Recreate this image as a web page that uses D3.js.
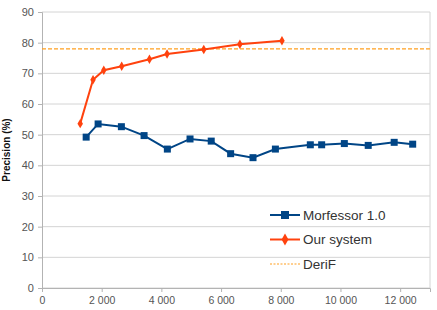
<!DOCTYPE html>
<html>
<head>
<meta charset="utf-8">
<script src="https://cdn.jsdelivr.net/npm/d3@7"></script>
<style>
  body { margin: 0; background: #fff; }
  svg { display: block; font-family: "Liberation Sans", Arial, sans-serif; }
</style>
</head>
<body>
<svg id="chart" width="437" height="310"></svg>
<script>
// values
const morfessorX = [1480, 1880, 2660, 3420, 4200, 4960, 5670, 6320, 7070, 7820, 8990, 9370, 10130, 10930, 11800, 12420];
const morfessorY = [49.2, 53.5, 52.6, 49.7, 45.3, 48.6, 47.9, 43.8, 42.5, 45.3, 46.7, 46.7, 47.1, 46.5, 47.5, 46.9];
const oursX = [1280, 1710, 2070, 2670, 3600, 4190, 5420, 6630, 8040];
const oursY = [53.6, 67.9, 71.0, 72.3, 74.6, 76.3, 77.8, 79.5, 80.6];
const derifY = 78;
const xTicks = [0, 2000, 4000, 6000, 8000, 10000, 12000];
const yTicks = [0, 10, 20, 30, 40, 50, 60, 70, 80, 90];

const svg = d3.select('#chart');
const margin = { left: 42, right: 7, top: 12, bottom: 22 };
const width = 437, height = 310;

const x = d3.scaleLinear().domain([0, 13000]).range([margin.left, width - margin.right]);
const y = d3.scaleLinear().domain([0, 90]).range([height - margin.bottom, margin.top]);

// grid
svg.append('g')
    .selectAll('line')
    .data(yTicks)
    .join('line')
    .attr('x1', x(0)).attr('x2', x(13000))
    .attr('y1', d => y(d)).attr('y2', d => y(d))
    .attr('stroke', '#d4d4d4')
    .attr('stroke-width', 1);

// right border
svg.append('line')
    .attr('x1', x(13000)).attr('x2', x(13000))
    .attr('y1', y(0)).attr('y2', y(90))
    .attr('stroke', '#d4d4d4');

const fmt = d => d3.format(',')(d).replace(',', '\u2009');

// x axis
const xAxis = svg.append('g')
    .attr('transform', `translate(0,${y(0)})`)
    .call(d3.axisBottom(x).tickValues(xTicks).tickSize(4).tickFormat(d => d === 0 ? '0' : d3.format(',')(d).replace(',', ' ')));
xAxis.select('.domain').attr('stroke', '#b3b3b3');
xAxis.selectAll('.tick line').attr('stroke', '#b3b3b3');
xAxis.selectAll('text').attr('fill', '#555').attr('font-size', 10.5).attr('dy', '0.9em');

// y axis
const yAxis = svg.append('g')
    .attr('transform', `translate(${x(0)},0)`)
    .call(d3.axisLeft(y).tickValues(yTicks).tickSize(4));
yAxis.select('.domain').attr('stroke', '#b3b3b3');
yAxis.selectAll('.tick line').attr('stroke', '#b3b3b3');
yAxis.selectAll('text').attr('fill', '#555').attr('font-size', 11).attr('dx', '-0.1em');

// y title
svg.append('text')
    .attr('transform', `translate(10,${y(45)}) rotate(-90)`)
    .attr('text-anchor', 'middle')
    .attr('font-size', 10)
    .attr('font-weight', 'bold')
    .attr('fill', '#111')
    .text('Precision (%)');

// DeriF
svg.append('line')
    .attr('x1', x(0)).attr('x2', x(13000))
    .attr('y1', y(derifY)).attr('y2', y(derifY))
    .attr('stroke', '#ffa020')
    .attr('stroke-width', 1.3)
    .attr('stroke-dasharray', '4,2');

const line = d3.line().x(d => x(d[0])).y(d => y(d[1]));
const blue = '#004586';
const orange = '#ff420e';

const morf = morfessorX.map((v, i) => [v, morfessorY[i]]);
const ours = oursX.map((v, i) => [v, oursY[i]]);

svg.append('path').datum(morf).attr('d', line)
    .attr('fill', 'none').attr('stroke', blue).attr('stroke-width', 2);
svg.append('g').selectAll('rect').data(morf).join('rect')
    .attr('x', d => x(d[0]) - 3.5).attr('y', d => y(d[1]) - 3.5)
    .attr('width', 7).attr('height', 7).attr('fill', blue);

svg.append('path').datum(ours).attr('d', line)
    .attr('fill', 'none').attr('stroke', orange).attr('stroke-width', 2);
const diamond = d3.symbol().type(d3.symbolDiamond).size(26);
svg.append('g').selectAll('path').data(ours).join('path')
    .attr('transform', d => `translate(${x(d[0])},${y(d[1])})`)
    .attr('d', diamond).attr('fill', orange);

// legend
const legend = [
    { name: 'Morfessor 1.0', color: blue, mark: 'square' },
    { name: 'Our system', color: orange, mark: 'diamond' },
    { name: 'DeriF', color: '#ffa020', mark: 'dash' }
];
const lg = svg.append('g').attr('transform', 'translate(270,215)');
legend.forEach((d, i) => {
    const g = lg.append('g').attr('transform', `translate(0,${i * 24.5})`);
    if (d.mark === 'dash') {
        g.append('line').attr('x1', 0).attr('x2', 30).attr('stroke', d.color)
            .attr('stroke-width', 1.2).attr('stroke-dasharray', '2,1.5');
    } else {
        g.append('line').attr('x1', 0).attr('x2', 30).attr('stroke', d.color).attr('stroke-width', 2);
        if (d.mark === 'square') {
            g.append('rect').attr('x', 11).attr('y', -4).attr('width', 8).attr('height', 8).attr('fill', d.color);
        } else {
            g.append('path').attr('transform', 'translate(15,0)')
                .attr('d', d3.symbol().type(d3.symbolDiamond).size(40)).attr('fill', d.color);
        }
    }
    g.append('text').attr('x', 33).attr('y', 0).attr('dy', '0.35em')
        .attr('font-size', 13.5).attr('fill', '#333').text(d.name);
});
</script>
</body>
</html>
